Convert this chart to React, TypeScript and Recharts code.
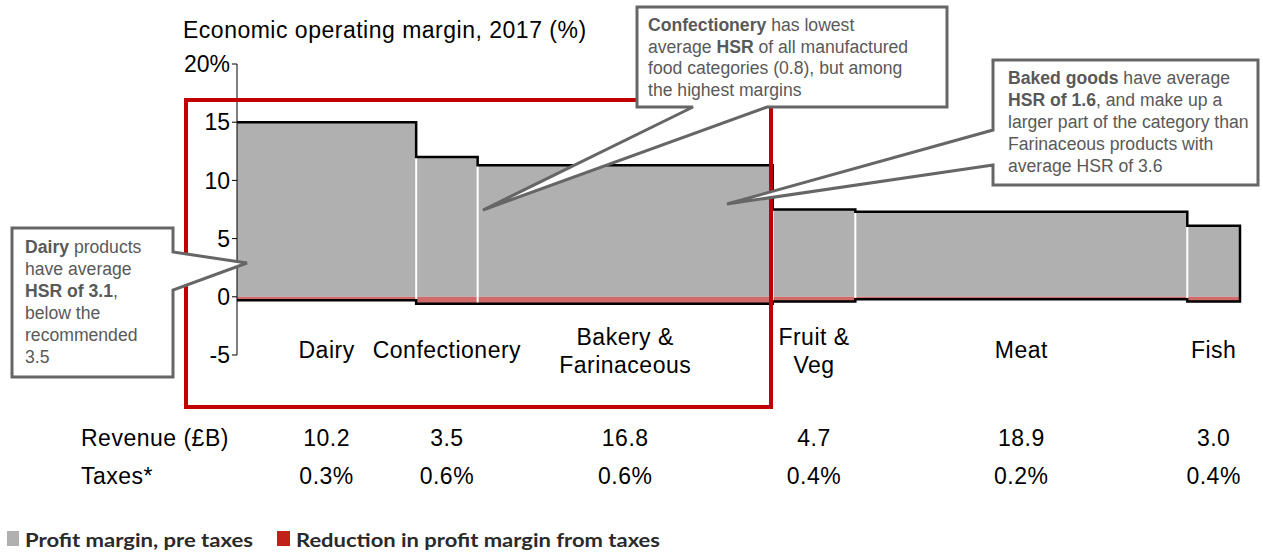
import React from 'react';
import { ComposedChart, Area, Line, XAxis, YAxis } from 'recharts';

const categories = ['Dairy', 'Confectionery', 'Bakery &\nFarinaceous', 'Fruit &\nVeg', 'Meat', 'Fish'];
const revenue = [10.2, 3.5, 16.8, 4.7, 18.9, 3.0];
const marginPreTax = [15.0, 12.0, 11.3, 7.5, 7.3, 6.1];
const taxes = [0.3, 0.6, 0.6, 0.4, 0.2, 0.4];
const revenueLabels = ['10.2', '3.5', '16.8', '4.7', '18.9', '3.0'];
const taxLabels = ['0.3%', '0.6%', '0.6%', '0.4%', '0.2%', '0.4%'];
const yTicks = [-5, 0, 5, 10, 15, 20];

const FONT = '"Liberation Sans", Arial, sans-serif';
const FS = 23;
const LS = 0.5;
const GREY = '#b0b0b0';
const TAX_RED = '#cf6b6b';
const BOX = '#666666';
const NOTE = '#595959';

// column edges come from cumulative revenue
const starts: number[] = [];
let acc = 0;
revenue.forEach((r) => {
    starts.push(acc);
    acc += r;
});
const total = acc;
const ends = starts.map((s, i) => s + revenue[i]);
const mids = starts.map((s, i) => s + revenue[i] / 2);
const n = categories.length;

const marginData = [
    ...starts.map((s, i) => ({ x: s, y: marginPreTax[i] })),
    { x: total, y: marginPreTax[n - 1] }
];
const taxData = [...starts.map((s, i) => ({ x: s, y: -taxes[i] })), { x: total, y: -taxes[n - 1] }];

// black outline: along the tops, down the right side, back along the tax floor
const outline: { x: number; y: number }[] = [];
marginPreTax.forEach((m, i) => {
    outline.push({ x: starts[i], y: m });
    outline.push({ x: ends[i], y: m });
});
for (let i = n - 1; i >= 0; i--) {
    outline.push({ x: ends[i], y: -taxes[i] });
    outline.push({ x: starts[i], y: -taxes[i] });
}

// white dividers between columns
const dividers: { x: number; y: number | null }[] = [];
for (let i = 0; i < n - 1; i++) {
    dividers.push({ x: ends[i], y: -Math.max(taxes[i], taxes[i + 1]) });
    dividers.push({ x: ends[i], y: Math.min(marginPreTax[i], marginPreTax[i + 1]) });
    dividers.push({ x: ends[i], y: null });
}

const renderTick = (props: any) => {
    const { x, y, index } = props;
    const lines = categories[index].split('\n');
    const catY = lines.length === 1 ? [y + 3] : [y - 10, y + 18];
    return (
        <g fontFamily={FONT} fontSize={FS} letterSpacing={LS} fill="#000">
            {lines.map((l, k) => (
                <text key={k} x={x} y={catY[k]} textAnchor="middle">
                    {l}
                </text>
            ))}
            <text x={x} y={y + 91} textAnchor="middle">
                {revenueLabels[index]}
            </text>
            <text x={x} y={y + 129} textAnchor="middle">
                {taxLabels[index]}
            </text>
        </g>
    );
};

type Seg = [string, boolean];
const NoteText = ({ x, y0, step, lines }: { x: number; y0: number; step: number; lines: Seg[][] }) => (
    <text fontFamily={FONT} fontSize={17.6} fill={NOTE}>
        {lines.map((segs, i) => (
            <tspan key={i} x={x} y={y0 + i * step}>
                {segs.map(([t, b], j) => (
                    <tspan key={j} fontWeight={b ? 700 : 400}>
                        {t}
                    </tspan>
                ))}
            </tspan>
        ))}
    </text>
);

export default function App() {
    return (
        <div style={{ position: 'absolute', left: 0, top: 0, width: 1263, height: 555, background: '#fff' }}>
            <ComposedChart width={1263} height={555} margin={{ top: 64, right: 23, bottom: 50, left: 0 }}>
                <XAxis
                    type="number"
                    dataKey="x"
                    domain={[0, total]}
                    ticks={mids}
                    interval={0}
                    axisLine={false}
                    tickLine={false}
                    tickSize={0}
                    tickMargin={0}
                    height={150}
                    tick={renderTick}
                />
                <YAxis
                    type="number"
                    domain={[-5, 20]}
                    ticks={yTicks}
                    interval={0}
                    width={237}
                    axisLine={{ stroke: '#000' }}
                    tickLine={{ stroke: '#000' }}
                    tickSize={5}
                    tickMargin={2}
                    tick={{ fill: '#000', fontSize: FS, fontFamily: FONT }}
                    tickFormatter={(v) => (v === 20 ? '20%' : String(v))}
                />
                <Area data={marginData} dataKey="y" type="stepAfter" fill={GREY} fillOpacity={1} stroke="none" isAnimationActive={false} />
                <Area data={taxData} dataKey="y" type="stepAfter" fill={TAX_RED} fillOpacity={1} stroke="none" isAnimationActive={false} />
                <Line data={dividers} dataKey="y" type="linear" stroke="#fff" strokeWidth={2} dot={false} connectNulls={false} isAnimationActive={false} />
                <Line data={outline} dataKey="y" type="linear" stroke="#000" strokeWidth={2.5} dot={false} isAnimationActive={false} />
            </ComposedChart>

            <svg width={1263} height={555} style={{ position: 'absolute', left: 0, top: 0, pointerEvents: 'none' }}>
                <text x={183} y={38} fontFamily={FONT} fontSize={FS} letterSpacing={LS} fill="#000">
                    Economic operating margin, 2017 (%)
                </text>

                {/* highlight box */}
                <rect x={186} y={100} width={585} height={307} fill="none" stroke="#c00000" strokeWidth={4} />

                {/* callouts */}
                <path d="M12,228 H173 V252 L247,263 L173,290 V377 H12 Z" fill="#fff" stroke={BOX} strokeWidth={3} />
                <NoteText
                    x={25}
                    y0={253}
                    step={22}
                    lines={[
                        [['Dairy', true], [' products', false]],
                        [['have average', false]],
                        [['HSR of 3.1', true], [',', false]],
                        [['below the', false]],
                        [['recommended', false]],
                        [['3.5', false]]
                    ]}
                />
                <path d="M637,7 H947 V107 H767 L483,210 L693,107 H637 Z" fill="#fff" stroke={BOX} strokeWidth={3} />
                <NoteText
                    x={648}
                    y0={31}
                    step={21.7}
                    lines={[
                        [['Confectionery', true], [' has lowest', false]],
                        [['average ', false], ['HSR', true], [' of all manufactured', false]],
                        [['food categories (0.8), but among', false]],
                        [['the highest margins', false]]
                    ]}
                />
                <path d="M993,60 H1258 V185 H993 V165 L727,204 L993,130 Z" fill="#fff" stroke={BOX} strokeWidth={3} />
                <NoteText
                    x={1008}
                    y0={84}
                    step={22}
                    lines={[
                        [['Baked goods', true], [' have average', false]],
                        [['HSR of 1.6', true], [', and make up a', false]],
                        [['larger part of the category than', false]],
                        [['Farinaceous products with', false]],
                        [['average HSR of 3.6', false]]
                    ]}
                />

                {/* row headers */}
                <text x={81} y={446} fontFamily={FONT} fontSize={FS} letterSpacing={LS} fill="#000">
                    Revenue (£B)
                </text>
                <text x={81} y={484} fontFamily={FONT} fontSize={FS} letterSpacing={LS} fill="#000">
                    Taxes*
                </text>

                {/* legend */}
                <rect x={7} y={531} width={12} height={15} fill={GREY} />
                <text x={25} y={547} fontFamily="Lato, sans-serif" fontWeight={700} fontSize={19} fill="#2a2a2a" textLength={228} lengthAdjust="spacingAndGlyphs">
                    Profit margin, pre taxes
                </text>
                <rect x={277} y={531} width={13} height={15} fill="#c0211a" />
                <text x={296} y={547} fontFamily="Lato, sans-serif" fontWeight={700} fontSize={19} fill="#2a2a2a" textLength={364} lengthAdjust="spacingAndGlyphs">
                    Reduction in profit margin from taxes
                </text>
            </svg>
        </div>
    );
}
